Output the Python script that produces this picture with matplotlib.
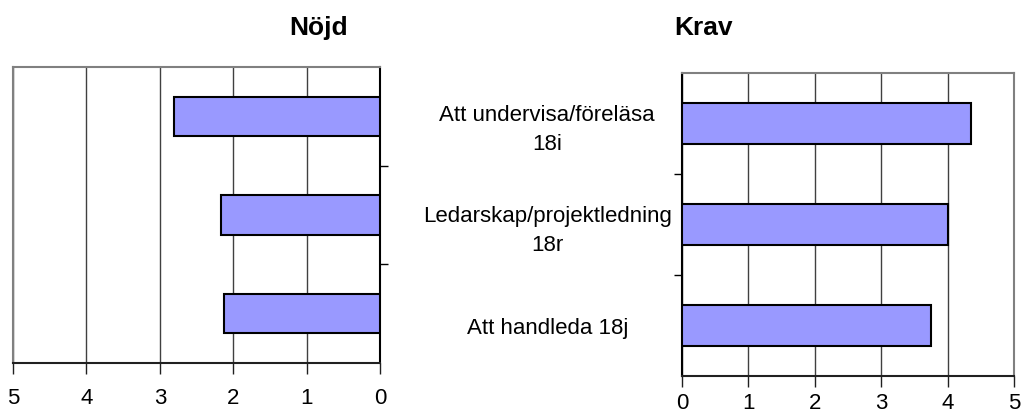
import matplotlib
matplotlib.use("Agg")
from matplotlib import pyplot as plt
from matplotlib.ticker import FixedLocator

plt.rcParams['font.family'] = ['Liberation Sans', 'DejaVu Sans']

# data
kategorier = ["Att undervisa/föreläsa\n18i", "Ledarskap/projektledning\n18r", "Att handleda 18j"]
nojd = [2.80, 2.17, 2.12]
krav = [4.35, 4.01, 3.75]
skala = [0, 1, 2, 3, 4, 5]

fig = plt.figure(figsize=(10.21, 4.12), dpi=100)
ax1 = fig.add_axes([13/1021, 1-363/412, (380-13)/1021, (363-67)/412])
ax2 = fig.add_axes([682/1021, 1-376/412, (1014-682)/1021, (376-73)/412])

pos = list(range(len(kategorier)))
farg = '#9999FF'

ax1.barh(pos, nojd, height=0.4, color=farg, edgecolor='black', linewidth=1.5, zorder=3)
ax2.barh(pos, krav, height=0.4, color=farg, edgecolor='black', linewidth=1.5, zorder=3)

for ax in (ax1, ax2):
    ax.set_ylim(len(kategorier)-0.5, -0.5)
    ax.set_xlim(skala[0], skala[-1])
    ax.set_xticks(skala)
    ax.grid(axis='x', color='#404040', linewidth=1, zorder=1)
    ax.yaxis.set_minor_locator(FixedLocator([0.5, 1.5]))
    ax.tick_params(axis='x', length=8, width=1, color='#202020', labelsize=16)
    ax.tick_params(axis='y', which='minor', length=6, width=1)
    ax.spines['top'].set_color('#808080')
    ax.spines['bottom'].set_color('#202020')
    ax.spines['top'].set_linewidth(1.5)
    ax.spines['bottom'].set_linewidth(1.5)

# vanster: Nöjd, axeln omvand
ax1.invert_xaxis()
ax1.yaxis.tick_right()
ax1.yaxis.set_minor_locator(FixedLocator([0.5, 1.5]))
ax1.set_yticks(pos)
ax1.set_yticklabels([])
ax1.tick_params(axis='y', which='major', length=0)
ax1.tick_params(axis='y', which='minor', right=True, length=6)
ax1.spines['left'].set_color('#808080')
ax1.spines['left'].set_linewidth(1.5)
ax1.spines['right'].set_color('black')
ax1.spines['right'].set_linewidth(1.5)
ax1.tick_params(axis='x', pad=10)

# hoger: Krav
ax2.set_yticks(pos)
ax2.set_yticklabels(kategorier, ha='center', multialignment='center', fontsize=16, linespacing=1.5)
ax2.tick_params(axis='y', which='major', length=0, pad=97)
ax2.spines['right'].set_color('#808080')
ax2.spines['right'].set_linewidth(1.5)
ax2.spines['left'].set_color('black')
ax2.spines['left'].set_linewidth(1.5)
ax2.tick_params(axis='x', pad=4)

fig.text(319/1021, 1-35/412, "Nöjd", ha='center', va='baseline', fontsize=19, fontweight='bold')
fig.text(703/1021, 1-35/412, "Krav", ha='center', va='baseline', fontsize=19, fontweight='bold')

fig.savefig('out.png', dpi=100)
